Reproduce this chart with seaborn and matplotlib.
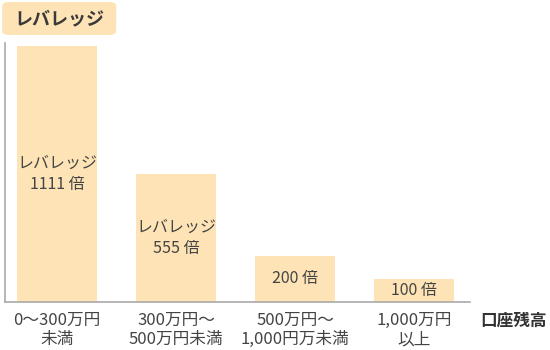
import matplotlib
matplotlib.use("Agg")
import matplotlib.pyplot as plt
import seaborn as sns
import pandas as pd
from matplotlib.patches import FancyBboxPatch

categories = ["0〜300万円\n未満", "300万円〜\n500万円未満", "500万円〜\n1,000円万未満", "1,000万円\n以上"]
leverage = [1111, 555, 200, 100]
bar_labels = ["レバレッジ\n1111 倍", "レバレッジ\n555 倍", "200 倍", "100 倍"]
title_text = "レバレッジ"
xaxis_text = "口座残高"

sns.set_theme(style="white")
plt.rcParams['font.family'] = ['Noto Sans CJK JP', 'DejaVu Sans']

bar_color = "#FDE3B5"
text_color = "#444444"

df = pd.DataFrame({"cat": categories, "val": leverage})

fig = plt.figure(figsize=(5.5, 3.5), dpi=100)
ax = fig.add_axes([5/550, 48/350, 465/550, 259/350])
sns.barplot(data=df, x="cat", y="val", color=bar_color, saturation=1, width=0.672, ax=ax)
for p in ax.patches:
    p.set_edgecolor("none")

ax.set_xlim(-0.437, 3.47)
ax.set_ylim(0, 1124)
ax.set_yticks([])
ax.set_xlabel("")
ax.set_ylabel("")
for s in ["top", "right"]:
    ax.spines[s].set_visible(False)
for s in ["left", "bottom"]:
    ax.spines[s].set_color("#aaaaaa")
    ax.spines[s].set_linewidth(1.2)

ax.tick_params(axis="x", length=0, pad=7, labelsize=12, labelcolor=text_color)
for t in ax.get_xticklabels():
    t.set_linespacing(1.2)

for i, (v, lab) in enumerate(zip(leverage, bar_labels)):
    ax.text(i, v / 2, lab, ha="center", va="center", fontsize=11.5, color=text_color, linespacing=1.3)

fig.text(513/550, 1 - 321/350, xaxis_text, ha="center", va="center", fontsize=12,
         fontweight="bold", color="#333333")

box = FancyBboxPatch((0.004, 1 - 35/350), 114/550, 33/350, boxstyle="round,pad=0,rounding_size=0.012",
                     transform=fig.transFigure, facecolor=bar_color, edgecolor="none")
fig.patches.append(box)
fig.text(59/550, 1 - 19/350, title_text, ha="center", va="center", fontsize=13,
         fontweight="bold", color="#3a3a3a")

fig.savefig("out.png", dpi=100)
